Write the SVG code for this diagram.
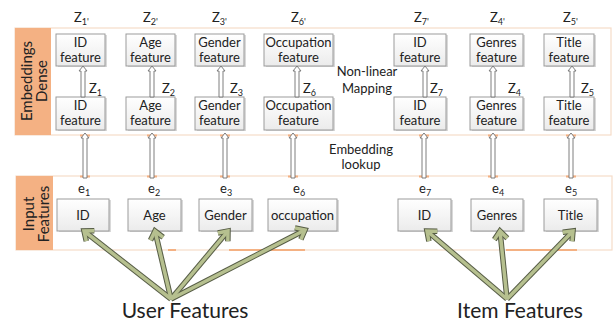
<svg xmlns="http://www.w3.org/2000/svg" width="616" height="322" viewBox="0 0 616 322">
  <style>
    text { font-family: Lato, "Liberation Sans", sans-serif; fill: #222; }
    .lbl { font-size: 13px; text-anchor: middle; }
    .sub { font-size: 9px; }
    .zl { font-size: 13px; }
    .side { font-size: 15px; text-anchor: middle; }
    .big { font-size: 21px; text-anchor: middle; }
    .box { fill: url(#boxfill); stroke: #9b9b9b; stroke-width: 1; }
    .shadow { fill: #d9d9d9; }
    .panel { fill: #fff; stroke: #f6dcc9; stroke-width: 1.2; }
    .tag { fill: #f4b183; }
    .hollow { fill: #fff; stroke: #707070; stroke-width: 0.9; }
    .seg { stroke: #f4b183; stroke-width: 2; }
    .g-dark { fill: none; stroke: #565c45; stroke-width: 5.5; stroke-linejoin: miter; }
    .g-light { fill: none; stroke: #b6c08f; stroke-width: 3.5; stroke-linejoin: miter; }
  </style>
  <defs>
    <linearGradient id="boxfill" x1="0" y1="0" x2="0" y2="1">
      <stop offset="0" stop-color="#ffffff"/>
      <stop offset="1" stop-color="#ebebeb"/>
    </linearGradient>
    <path id="ha-short" class="hollow" d="M-2,31 V5 H-4 L0,0 L4,5 H2 V31 Z"/>
    <path id="ha-long" class="hollow" d="M-2,45 V5 H-4 L0,0 L4,5 H2 V45 Z"/>
    <marker id="head-dark" markerUnits="userSpaceOnUse" markerWidth="30" markerHeight="30" viewBox="-15 -15 30 30" refX="0" refY="0" orient="auto" overflow="visible">
      <path d="M-8,-6.5 L0,0 L-8,6.5" fill="none" stroke="#565c45" stroke-width="5.5"/>
    </marker>
    <marker id="head-light" markerUnits="userSpaceOnUse" markerWidth="30" markerHeight="30" viewBox="-15 -15 30 30" refX="0" refY="0" orient="auto" overflow="visible">
      <path d="M-8,-6.5 L0,0 L-8,6.5" fill="none" stroke="#b6c08f" stroke-width="3.5"/>
    </marker>
  </defs>

  <rect width="616" height="322" fill="#fff"/>

  <!-- dense embedding layer -->
  <g id="panel-dense">
    <rect class="panel" x="15" y="28" width="596" height="107"/>
    <rect class="tag" x="15" y="28" width="36" height="107"/>
    <text class="side" transform="translate(32,81) rotate(-90)">Embeddings</text>
    <text class="side" transform="translate(47,81) rotate(-90)">Dense</text>
  </g>

  <!-- input feature layer -->
  <g id="panel-input">
    <rect class="panel" x="16" y="176" width="596" height="74"/>
    <rect class="tag" x="16" y="176" width="37" height="74"/>
    <text class="side" transform="translate(34,214) rotate(-90)">Input</text>
    <text class="side" transform="translate(49,214) rotate(-90)">Features</text>
    <line class="seg" x1="168" y1="250" x2="176" y2="250"/>
    <line class="seg" x1="229" y1="250" x2="305" y2="250"/>
    <line class="seg" x1="506" y1="250" x2="577" y2="250"/>
  </g>

  <!-- output embeddings (top row) -->
  <g id="z1p"><rect class="shadow" x="58" y="35" width="49" height="32"/><rect class="box" x="56" y="34" width="49" height="32"/>
    <text class="lbl" x="80.5" y="47">ID</text><text class="lbl" x="80.5" y="62">feature</text>
    <text class="zl" x="74" y="22">Z<tspan class="sub" dy="3">1'</tspan></text></g>
  <g id="z2p"><rect class="shadow" x="128" y="35" width="49" height="32"/><rect class="box" x="126" y="34" width="49" height="32"/>
    <text class="lbl" x="150.5" y="47">Age</text><text class="lbl" x="150.5" y="62">feature</text>
    <text class="zl" x="143" y="22">Z<tspan class="sub" dy="3">2'</tspan></text></g>
  <g id="z3p"><rect class="shadow" x="197" y="35" width="49" height="32"/><rect class="box" x="195" y="34" width="49" height="32"/>
    <text class="lbl" x="219.5" y="47">Gender</text><text class="lbl" x="219.5" y="62">feature</text>
    <text class="zl" x="212" y="22">Z<tspan class="sub" dy="3">3'</tspan></text></g>
  <g id="z6p"><rect class="shadow" x="266" y="35" width="69" height="32"/><rect class="box" x="264" y="34" width="69" height="32"/>
    <text class="lbl" x="298.5" y="47">Occupation</text><text class="lbl" x="298.5" y="62">feature</text>
    <text class="zl" x="291" y="22">Z<tspan class="sub" dy="3">6'</tspan></text></g>
  <g id="z7p"><rect class="shadow" x="396" y="35" width="52" height="32"/><rect class="box" x="394" y="34" width="52" height="32"/>
    <text class="lbl" x="420" y="47">ID</text><text class="lbl" x="420" y="62">feature</text>
    <text class="zl" x="414" y="22">Z<tspan class="sub" dy="3">7'</tspan></text></g>
  <g id="z4p"><rect class="shadow" x="472" y="35" width="53" height="32"/><rect class="box" x="470" y="34" width="53" height="32"/>
    <text class="lbl" x="496.5" y="47">Genres</text><text class="lbl" x="496.5" y="62">feature</text>
    <text class="zl" x="490" y="22">Z<tspan class="sub" dy="3">4'</tspan></text></g>
  <g id="z5p"><rect class="shadow" x="546" y="35" width="50" height="32"/><rect class="box" x="544" y="34" width="50" height="32"/>
    <text class="lbl" x="569" y="47">Title</text><text class="lbl" x="569" y="62">feature</text>
    <text class="zl" x="563" y="22">Z<tspan class="sub" dy="3">5'</tspan></text></g>

  <!-- looked-up embeddings (second row) -->
  <g id="z1"><rect class="shadow" x="58" y="98" width="49" height="33"/><rect class="box" x="56" y="97" width="49" height="33"/>
    <text class="lbl" x="80.5" y="110">ID</text><text class="lbl" x="80.5" y="125">feature</text></g>
  <g id="z2"><rect class="shadow" x="128" y="98" width="49" height="33"/><rect class="box" x="126" y="97" width="49" height="33"/>
    <text class="lbl" x="150.5" y="110">Age</text><text class="lbl" x="150.5" y="125">feature</text></g>
  <g id="z3"><rect class="shadow" x="197" y="98" width="49" height="33"/><rect class="box" x="195" y="97" width="49" height="33"/>
    <text class="lbl" x="219.5" y="110">Gender</text><text class="lbl" x="219.5" y="125">feature</text></g>
  <g id="z6"><rect class="shadow" x="266" y="98" width="69" height="33"/><rect class="box" x="264" y="97" width="69" height="33"/>
    <text class="lbl" x="298.5" y="110">Occupation</text><text class="lbl" x="298.5" y="125">feature</text></g>
  <g id="z7"><rect class="shadow" x="396" y="98" width="52" height="33"/><rect class="box" x="394" y="97" width="52" height="33"/>
    <text class="lbl" x="420" y="110">ID</text><text class="lbl" x="420" y="125">feature</text></g>
  <g id="z4"><rect class="shadow" x="472" y="98" width="53" height="33"/><rect class="box" x="470" y="97" width="53" height="33"/>
    <text class="lbl" x="496.5" y="110">Genres</text><text class="lbl" x="496.5" y="125">feature</text></g>
  <g id="z5"><rect class="shadow" x="546" y="98" width="50" height="33"/><rect class="box" x="544" y="97" width="50" height="33"/>
    <text class="lbl" x="569" y="110">Title</text><text class="lbl" x="569" y="125">feature</text></g>

  <!-- raw input features -->
  <g id="e1"><rect class="shadow" x="59" y="200" width="52" height="32"/><rect class="box" x="57" y="199" width="52" height="32"/>
    <text class="lbl" x="83" y="220">ID</text>
    <text class="zl" x="78" y="193">e<tspan class="sub" dy="3">1</tspan></text></g>
  <g id="e2"><rect class="shadow" x="130" y="200" width="53" height="32"/><rect class="box" x="128" y="199" width="53" height="32"/>
    <text class="lbl" x="154.5" y="220">Age</text>
    <text class="zl" x="148" y="193">e<tspan class="sub" dy="3">2</tspan></text></g>
  <g id="e3"><rect class="shadow" x="201" y="200" width="53" height="32"/><rect class="box" x="199" y="199" width="53" height="32"/>
    <text class="lbl" x="225.5" y="220">Gender</text>
    <text class="zl" x="220" y="193">e<tspan class="sub" dy="3">3</tspan></text></g>
  <g id="e6"><rect class="shadow" x="270" y="200" width="69" height="32"/><rect class="box" x="268" y="199" width="69" height="32"/>
    <text class="lbl" x="302.5" y="220">occupation</text>
    <text class="zl" x="293" y="193">e<tspan class="sub" dy="3">6</tspan></text></g>
  <g id="e7"><rect class="shadow" x="400" y="200" width="53" height="32"/><rect class="box" x="398" y="199" width="53" height="32"/>
    <text class="lbl" x="424.5" y="220">ID</text>
    <text class="zl" x="419" y="193">e<tspan class="sub" dy="3">7</tspan></text></g>
  <g id="e4"><rect class="shadow" x="473" y="200" width="52" height="32"/><rect class="box" x="471" y="199" width="52" height="32"/>
    <text class="lbl" x="497" y="220">Genres</text>
    <text class="zl" x="492" y="193">e<tspan class="sub" dy="3">4</tspan></text></g>
  <g id="e5"><rect class="shadow" x="546" y="200" width="53" height="32"/><rect class="box" x="544" y="199" width="53" height="32"/>
    <text class="lbl" x="570.5" y="220">Title</text>
    <text class="zl" x="565" y="193">e<tspan class="sub" dy="3">5</tspan></text></g>

  <!-- user / item feature sources -->
  <g id="user-features"><text class="big" x="185" y="318">User Features</text></g>
  <g id="item-features"><text class="big" x="520" y="318">Item Features</text></g>

  <!-- step captions -->
  <g id="caption-mapping">
    <text class="lbl" x="367" y="76">Non-linear</text>
    <text class="lbl" x="367" y="93">Mapping</text>
  </g>
  <g id="caption-lookup">
    <text class="lbl" x="361" y="154">Embedding</text>
    <text class="lbl" x="361" y="169">lookup</text>
  </g>

  <g id="connectors">
    <!-- non-linear mapping arrows -->
    <use href="#ha-short" x="83" y="66"/>
    <use href="#ha-short" x="152" y="66"/>
    <use href="#ha-short" x="221" y="66"/>
    <use href="#ha-short" x="297" y="66"/>
    <use href="#ha-short" x="425" y="66"/>
    <use href="#ha-short" x="493" y="66"/>
    <use href="#ha-short" x="572" y="66"/>
    <text class="zl" x="89" y="93">Z<tspan class="sub" dy="3">1</tspan></text>
    <text class="zl" x="162" y="93">Z<tspan class="sub" dy="3">2</tspan></text>
    <text class="zl" x="230" y="93">Z<tspan class="sub" dy="3">3</tspan></text>
    <text class="zl" x="303" y="93">Z<tspan class="sub" dy="3">6</tspan></text>
    <text class="zl" x="430" y="93">Z<tspan class="sub" dy="3">7</tspan></text>
    <text class="zl" x="508" y="93">Z<tspan class="sub" dy="3">4</tspan></text>
    <text class="zl" x="581" y="93">Z<tspan class="sub" dy="3">5</tspan></text>

    <!-- embedding lookup arrows -->
    <g>
      <line class="seg" x1="80" y1="135.5" x2="90" y2="135.5"/><line class="seg" x1="80" y1="176.5" x2="90" y2="176.5"/>
      <line class="seg" x1="147" y1="135.5" x2="157" y2="135.5"/><line class="seg" x1="147" y1="176.5" x2="157" y2="176.5"/>
      <line class="seg" x1="220" y1="135.5" x2="230" y2="135.5"/><line class="seg" x1="220" y1="176.5" x2="230" y2="176.5"/>
      <line class="seg" x1="288" y1="135.5" x2="298" y2="135.5"/><line class="seg" x1="288" y1="176.5" x2="298" y2="176.5"/>
      <line class="seg" x1="419" y1="135.5" x2="429" y2="135.5"/><line class="seg" x1="419" y1="176.5" x2="429" y2="176.5"/>
      <line class="seg" x1="488" y1="135.5" x2="498" y2="135.5"/><line class="seg" x1="488" y1="176.5" x2="498" y2="176.5"/>
      <line class="seg" x1="566" y1="135.5" x2="576" y2="135.5"/><line class="seg" x1="566" y1="176.5" x2="576" y2="176.5"/>
    </g>
    <use href="#ha-long" x="85" y="133"/>
    <use href="#ha-long" x="152" y="133"/>
    <use href="#ha-long" x="225" y="133"/>
    <use href="#ha-long" x="293" y="133"/>
    <use href="#ha-long" x="424" y="133"/>
    <use href="#ha-long" x="493" y="133"/>
    <use href="#ha-long" x="571" y="133"/>

    <!-- feature source arrows -->
    <g class="g-dark" marker-end="url(#head-dark)">
      <line x1="171" y1="299" x2="84" y2="231"/>
      <line x1="171" y1="299" x2="155" y2="231"/>
      <line x1="171" y1="299" x2="228" y2="231"/>
      <line x1="171" y1="299" x2="305" y2="230"/>
      <line x1="507" y1="299" x2="427" y2="231"/>
      <line x1="507" y1="299" x2="500" y2="231"/>
      <line x1="507" y1="299" x2="573" y2="231"/>
    </g>
    <g class="g-light" marker-end="url(#head-light)">
      <line x1="171" y1="299" x2="84" y2="231"/>
      <line x1="171" y1="299" x2="155" y2="231"/>
      <line x1="171" y1="299" x2="228" y2="231"/>
      <line x1="171" y1="299" x2="305" y2="230"/>
      <line x1="507" y1="299" x2="427" y2="231"/>
      <line x1="507" y1="299" x2="500" y2="231"/>
      <line x1="507" y1="299" x2="573" y2="231"/>
    </g>
  </g>
</svg>
